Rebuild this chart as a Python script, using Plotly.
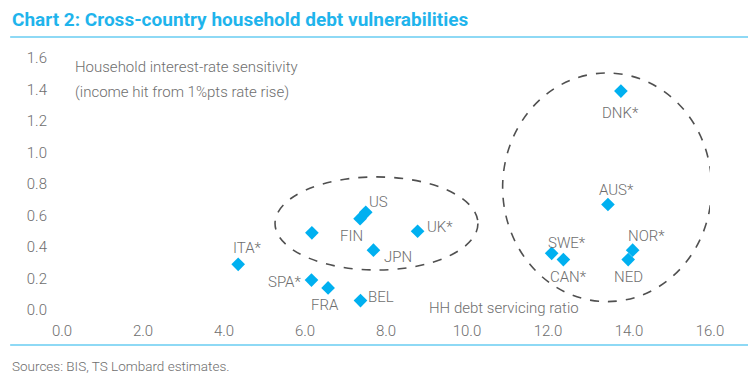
import plotly.graph_objects as go

countries = ["ITA*", "SPA*", "FRA", "BEL", "", "FIN", "US", "JPN", "UK*",
             "DNK*", "AUS*", "SWE*", "CAN*", "NOR*", "NED"]
debt_service = [4.35, 6.16, 6.57, 7.37, 6.17, 7.36, 7.50, 7.69, 8.78,
                13.80, 13.48, 12.09, 12.38, 14.09, 13.98]
rate_sensitivity = [0.29, 0.19, 0.14, 0.06, 0.49, 0.58, 0.62, 0.38, 0.50,
                    1.39, 0.67, 0.36, 0.32, 0.38, 0.32]
# label offsets in pixels (dx, dy) relative to marker, dy positive = up
label_dx = [9, -27, -3, 21, 0, -9, 13, 25, 22, 0, 9, 15, 5, 14, 0]
label_dy = [16, -2, -17, 4, 0, -17, 10, -7, 4, -22, 14, 10, -17, 14, -17]

x_ticks = [0, 2, 4, 6, 8, 10, 12, 14, 16]
y_ticks = [0.0, 0.2, 0.4, 0.6, 0.8, 1.0, 1.2, 1.4, 1.6]

gray = "#6e6e6e"
blue = "#1fb4ec"
font = "Roboto"
light = dict(family=font, size=15, color=gray, weight=300)

fig = go.Figure()
fig.add_trace(go.Scatter(
    x=debt_service, y=rate_sensitivity, mode="markers",
    marker=dict(symbol="diamond", size=10.5, color="#00b0f0"),
    hoverinfo="skip", showlegend=False, cliponaxis=False,
))

for c, x, y, dx, dy in zip(countries, debt_service, rate_sensitivity, label_dx, label_dy):
    if c:
        fig.add_annotation(x=x, y=y, text=c, showarrow=False, xshift=dx, yshift=dy, font=light)

# ellipses
fig.add_shape(type="circle", xref="x", yref="y", x0=5.26, x1=10.27, y0=0.254, y1=0.845,
              line=dict(color="#505050", width=1.6, dash="dash"))
fig.add_shape(type="circle", xref="x", yref="y", x0=10.88, x1=16.04, y0=0.053, y1=1.505,
              line=dict(color="#505050", width=1.6, dash="dash"))

# title and rules
fig.add_annotation(xref="paper", yref="paper", x=-0.0802, y=1.151, xanchor="left", yanchor="middle",
                   text="<b>Chart 2: Cross-country household debt vulnerabilities</b>",
                   showarrow=False, font=dict(family=font, size=19, color=blue))
fig.add_shape(type="line", xref="paper", yref="paper", x0=-0.080, x1=1.062, y0=1.0833, y1=1.0833,
              line=dict(color=blue, width=1.2))
fig.add_shape(type="line", xref="paper", yref="paper", x0=-0.080, x1=1.062, y0=-0.1389, y1=-0.1389,
              line=dict(color=blue, width=1.2))
fig.add_annotation(xref="paper", yref="paper", x=-0.0802, y=-0.222, xanchor="left", yanchor="middle",
                   text="Sources: BIS, TS Lombard estimates.", showarrow=False,
                   font=dict(family=font, size=13.5, color=gray, weight=300))

# axis titles as annotations
fig.add_annotation(xref="paper", yref="paper", x=0.017, y=(310 - 67) / 252, xanchor="left", yanchor="middle",
                   text="Household interest-rate sensitivity", showarrow=False, font=light)
fig.add_annotation(xref="paper", yref="paper", x=0.017, y=(310 - 92) / 252, xanchor="left", yanchor="middle",
                   text="(income hit from 1%pts rate rise)", showarrow=False, font=light)
fig.add_annotation(xref="x", yref="y", x=9.0, y=0.0, xanchor="left", yanchor="middle",
                   yshift=2, text="HH debt servicing ratio", showarrow=False, font=light)

fig.update_layout(
    width=756, height=385,
    margin=dict(l=54, r=54, t=50, b=83),
    paper_bgcolor="white", plot_bgcolor="white",
    font=light,
    xaxis=dict(range=[0, 16], tickvals=x_ticks, ticktext=[f"{v:.1f}" for v in x_ticks],
               showgrid=False, zeroline=False, showline=False, ticks="",
               ticklabelstandoff=10, tickfont=light),
    yaxis=dict(range=[0, 1.6], tickvals=y_ticks, ticktext=[f"{v:.1f}" for v in y_ticks],
               showgrid=False, zeroline=False, showline=False, ticks="",
               ticklabelstandoff=14, tickfont=light),
)

fig.write_html("out.html")
